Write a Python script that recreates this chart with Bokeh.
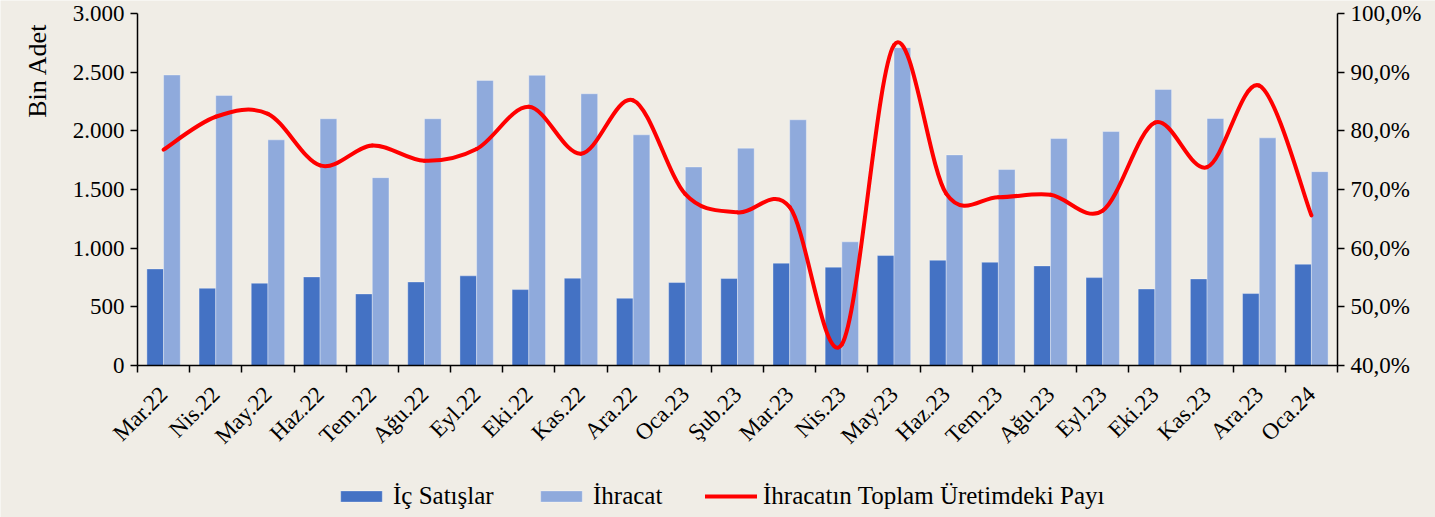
import numpy as np
from math import pi
from bokeh.plotting import figure
from bokeh.models import (Range1d, LinearAxis, FixedTicker, ColumnDataSource,
                          Legend, LegendItem, Label)
from bokeh.transform import dodge
from bokeh.embed import file_html
from bokeh.resources import INLINE

# ---------------- data ----------------
months = ["Mar.22", "Nis.22", "May.22", "Haz.22", "Tem.22", "Ağu.22", "Eyl.22",
          "Eki.22", "Kas.22", "Ara.22", "Oca.23", "Şub.23", "Mar.23", "Nis.23",
          "May.23", "Haz.23", "Tem.23", "Ağu.23", "Eyl.23", "Eki.23", "Kas.23",
          "Ara.23", "Oca.24"]
ic_satislar = [823, 658, 701, 755, 610, 712, 764, 647, 744, 573, 707, 741,
               872, 838, 937, 897, 880, 849, 749, 652, 738, 613, 863]
ihracat = [2476, 2302, 1923, 2103, 1601, 2103, 2430, 2473, 2316, 1966, 1692,
           1852, 2094, 1054, 2709, 1795, 1670, 1934, 1994, 2353, 2105, 1940, 1652]
ihracat_payi = [76.8, 82.4, 82.9, 74.1, 77.5, 74.9, 76.9, 84.1, 76.1, 85.2, 69.2,
                66.1, 67.0, 43.6, 94.6, 69.3, 68.7, 69.1, 66.4, 81.4, 73.8, 87.7, 65.6]
left_ticks = [0, 500, 1000, 1500, 2000, 2500, 3000]
left_tick_labels = ["0", "500", "1.000", "1.500", "2.000", "2.500", "3.000"]
right_ticks = [40, 50, 60, 70, 80, 90, 100]
right_tick_labels = ["40,0%", "50,0%", "60,0%", "70,0%", "80,0%", "90,0%", "100,0%"]
series_names = ["İç Satışlar", "İhracat", "İhracatın Toplam Üretimdeki Payı"]
left_axis_title = "Bin Adet"

# ---------------- style / layout ----------------
FONT = "Liberation Serif"
BG = "#F0EDE6"
C_IC = "#4472C4"
C_IHR = "#8FAADC"
C_LINE = "#FF0000"
W, H = 1435, 517
# pixel box of the plotting area inside the canvas
PL, PR, PT, PB = 137, 1337, 13, 365

n = len(months)
L_MIN, L_MAX = left_ticks[0], left_ticks[-1]
R_MIN, R_MAX = right_ticks[0], right_ticks[-1]


def padded(lo, hi, px_lo, px_hi, pad_lo, pad_hi):
    per_px = (hi - lo) / float(px_hi - px_lo)
    return Range1d(lo - pad_lo * per_px, hi + pad_hi * per_px)


x_range = padded(0, n, PL, PR, PL, W - PR)
y_range = padded(L_MIN, L_MAX, PT, PB, H - PB, PT)
pct_range = padded(R_MIN, R_MAX, PT, PB, H - PB, PT)

centers = np.arange(n) + 0.5
src = ColumnDataSource(dict(x=centers, ic=ic_satislar, ihr=ihracat,
                            pay=ihracat_payi, month=months))

p = figure(width=W, height=H, output_backend="svg", toolbar_location=None,
           x_range=x_range, y_range=y_range,
           min_border=0, min_border_left=0, min_border_right=0,
           min_border_top=0, min_border_bottom=0,
           background_fill_color=BG, border_fill_color=BG,
           outline_line_color=None)
p.grid.visible = False
p.extra_y_ranges = {"pct": pct_range}

r_ic = p.vbar(x=dodge("x", -0.16), top="ic", width=0.32, source=src,
              fill_color=C_IC, line_color="white", line_alpha=0.35, line_width=1)
r_ihr = p.vbar(x=dodge("x", 0.16), top="ihr", width=0.32, source=src,
               fill_color=C_IHR, line_color="white", line_alpha=0.35, line_width=1)

# smoothed line (Catmull-Rom style Bezier through the data points)
xv = np.asarray(centers, float)
yv = np.asarray(ihracat_payi, float)
xp = np.r_[xv[0], xv, xv[-1]]
yp = np.r_[yv[0], yv, yv[-1]]
bz = ColumnDataSource(dict(
    x0=xp[1:n], y0=yp[1:n], x1=xp[2:n + 1], y1=yp[2:n + 1],
    cx0=xp[1:n] + (xp[2:n + 1] - xp[0:n - 1]) / 6.0,
    cy0=yp[1:n] + (yp[2:n + 1] - yp[0:n - 1]) / 6.0,
    cx1=xp[2:n + 1] - (xp[3:n + 2] - xp[1:n]) / 6.0,
    cy1=yp[2:n + 1] - (yp[3:n + 2] - yp[1:n]) / 6.0,
))
r_line = p.bezier(x0="x0", y0="y0", x1="x1", y1="y1", cx0="cx0", cy0="cy0",
                  cx1="cx1", cy1="cy1", source=bz, line_color=C_LINE,
                  line_width=4, line_cap="round", y_range_name="pct")

# ---------------- axes ----------------
xa = p.xaxis[0]
xa.fixed_location = 0
xa.bounds = (0, n)
xa.ticker = FixedTicker(ticks=[float(c) for c in centers],
                        minor_ticks=list(range(n + 1)))
xa.major_label_overrides = {float(c): m for c, m in zip(centers, months)}
xa.major_tick_out = 0
xa.major_tick_in = 0
xa.minor_tick_out = 7
xa.minor_tick_in = 0
xa.minor_tick_line_color = "black"
xa.minor_tick_line_width = 1.5
xa.axis_line_color = "black"
xa.axis_line_width = 1.5
xa.major_label_orientation = pi / 4
xa.major_label_standoff = 18
xa.major_label_text_font = FONT
xa.major_label_text_font_size = "23px"
xa.major_label_text_color = "black"

ya = p.yaxis[0]
ya.fixed_location = 0
ya.bounds = (L_MIN, L_MAX)
ya.ticker = FixedTicker(ticks=left_ticks)
ya.major_label_overrides = dict(zip(left_ticks, left_tick_labels))
ya.major_tick_out = 7
ya.major_tick_in = 0
ya.minor_tick_out = 0
ya.minor_tick_in = 0
ya.major_tick_line_width = 1.5
ya.axis_line_width = 1.5
ya.axis_line_color = "black"
ya.major_label_standoff = 6
ya.major_label_text_font = FONT
ya.major_label_text_font_size = "23px"
ya.major_label_text_color = "black"

ra = LinearAxis(y_range_name="pct", ticker=FixedTicker(ticks=right_ticks),
                fixed_location=n, bounds=(R_MIN, R_MAX),
                major_label_overrides=dict(zip(right_ticks, right_tick_labels)),
                major_tick_out=7, major_tick_in=0, minor_tick_out=0, minor_tick_in=0,
                major_tick_line_width=1.5, axis_line_width=1.5,
                axis_line_color="black", major_label_standoff=6,
                major_label_text_font=FONT, major_label_text_font_size="23px",
                major_label_text_color="black")
p.add_layout(ra, "right")

p.add_layout(Label(x=37, y=H - 70, x_units="screen", y_units="screen",
                   angle=pi / 2, text=left_axis_title, text_align="center",
                   text_baseline="middle", text_font=FONT,
                   text_font_size="26px", text_color="black"))

# ---------------- legends ----------------
def make_legend(label, rend, xloc):
    return Legend(items=[LegendItem(label=label, renderers=[rend])],
                  location=(xloc, 7), orientation="horizontal",
                  padding=0, margin=0, spacing=0, border_line_alpha=0,
                  background_fill_alpha=0, glyph_width=52, glyph_height=14,
                  label_standoff=6, label_text_font=FONT,
                  label_text_font_size="25px", label_text_color="black")

p.add_layout(make_legend(series_names[0], r_ic, 335))
p.add_layout(make_legend(series_names[1], r_ihr, 535))
p.add_layout(make_legend(series_names[2], r_line, 705))

open("out.html", "w").write(file_html(p, INLINE))
